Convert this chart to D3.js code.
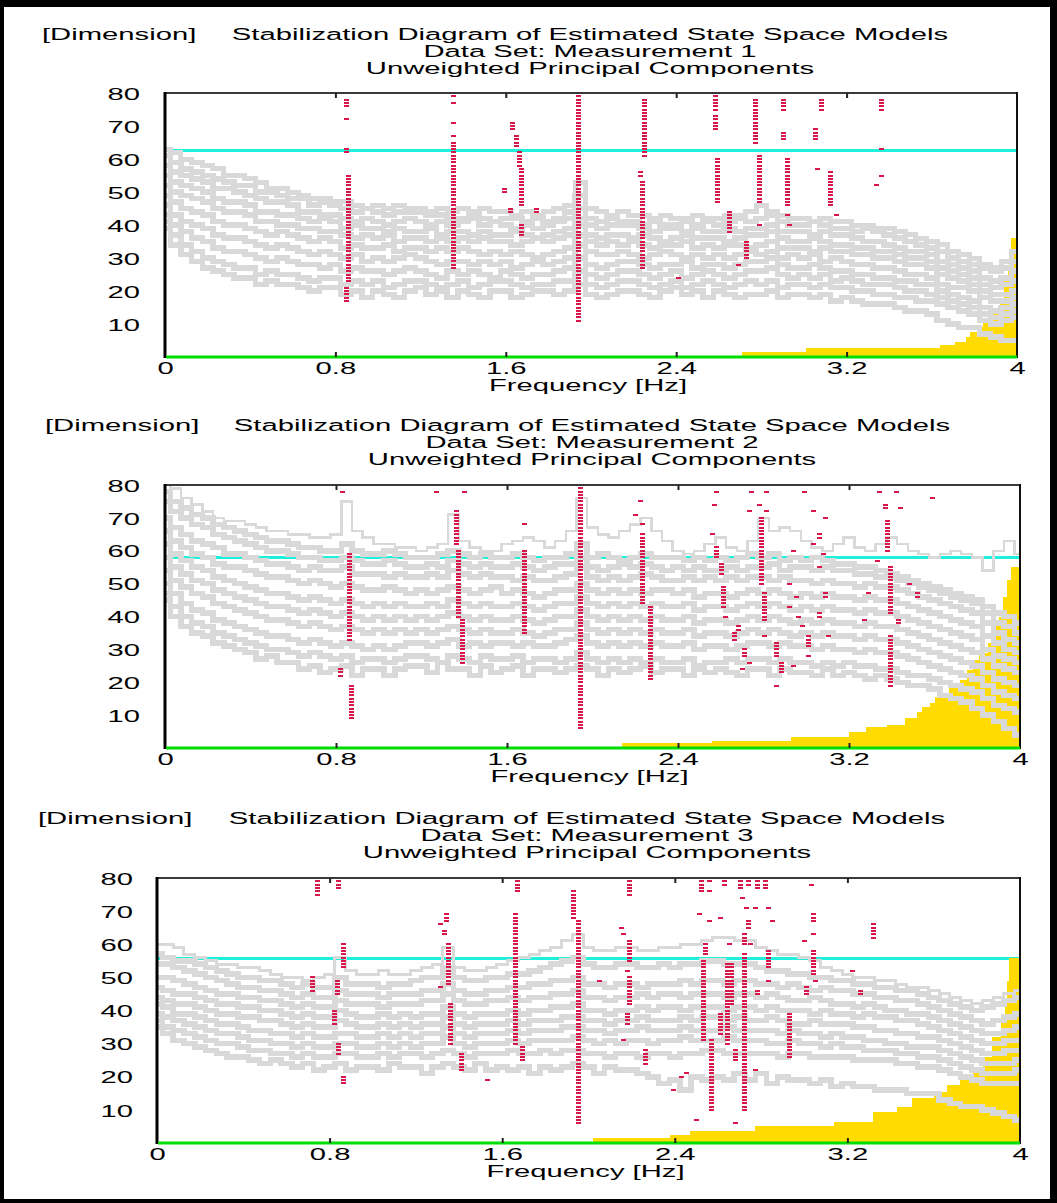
<!DOCTYPE html>
<html>
<head>
<meta charset="utf-8">
<script src="https://cdn.jsdelivr.net/npm/d3@7"></script>
<style>
  html, body { margin: 0; padding: 0; background: #fff; }
  svg text { font-family: "Liberation Sans", Arial, sans-serif; font-size: 17px; fill: #000; }
</style>
</head>
<body>
<svg id="chart" width="1057" height="1203"></svg>
<script>
// ---------- shared axis data ----------
const freqTicks = [0, 0.8, 1.6, 2.4, 3.2, 4];
const freqTickLabels = ["0", "0.8", "1.6", "2.4", "3.2", "4"];
const dimTicks = [10, 20, 30, 40, 50, 60, 70, 80];
const datasetNames = ["Measurement 1", "Measurement 2", "Measurement 3"];
const thresholds = [62.5, 57.8, 55.8];

// frequency lines of the spectra (Hz)
const spectrumFreq = [0,0.05,0.1,0.15,0.2,0.25,0.3,0.35,0.4,0.45,0.5,0.55,0.6,0.65,0.7,0.75,0.8,0.85,0.9,0.95,
  1.0,1.05,1.1,1.15,1.2,1.25,1.3,1.35,1.4,1.45,1.5,1.55,1.6,1.65,1.7,1.75,1.8,1.85,1.9,1.95,
  2.0,2.05,2.1,2.15,2.2,2.25,2.3,2.35,2.4,2.45,2.5,2.55,2.6,2.65,2.7,2.75,2.8,2.85,2.9,2.95,
  3.0,3.05,3.1,3.15,3.2,3.25,3.3,3.35,3.4,3.45,3.5,3.55,3.6,3.65,3.7,3.75,3.8,3.85,3.9,3.95,4.0];

// ---------- Measurement 1 ----------
const spectra1 = [
  [63,62,60,59,58,57,55,55,54,53,51,51,50,49,48,48,47,47,46,45,46,45,46,45,45,44,45,44,45,44,45,44,44,43,44,43,44,45,46,53,45,44,43,44,43,43,42,43,42,42,43,42,42,43,43,44,46,44,43,42,42,41,42,41,41,40,40,39,39,38,37,36,35,34,32,31,30,28,27,29,32],
  [61,59,57,56,55,54,53,52,52,50,50,49,48,48,46,47,46,45,44,45,44,43,44,44,44,43,43,42,42,43,42,41,42,42,41,42,41,42,44,49,42,41,42,41,41,40,41,40,40,41,40,41,40,41,42,41,42,43,41,40,40,41,40,39,39,38,39,38,37,36,35,34,33,32,30,29,28,27,26,27,29],
  [58,56,55,54,53,51,51,50,49,48,47,47,46,44,44,43,43,42,41,42,41,40,41,42,41,40,41,40,41,42,40,41,40,39,40,39,40,41,42,45,40,39,40,40,40,39,38,39,39,38,39,38,38,39,38,39,39,40,38,38,38,37,38,37,37,36,35,35,34,33,32,32,31,29,28,27,26,24,23,24,26],
  [55,53,52,51,50,48,47,47,46,44,44,43,43,42,41,42,41,39,40,39,39,38,39,38,38,39,37,38,38,37,38,37,37,38,37,36,37,38,39,42,37,36,37,37,36,37,36,35,36,37,36,36,36,35,36,37,37,38,36,35,35,36,35,34,34,33,33,32,32,31,30,30,29,27,26,25,24,22,21,22,23],
  [52,50,49,48,47,45,44,44,43,41,41,40,40,39,39,38,38,37,36,37,36,37,35,36,36,35,36,35,36,35,36,35,35,34,35,36,35,36,37,40,35,34,35,34,35,34,33,34,34,35,33,34,33,34,34,33,34,35,33,33,33,32,33,32,32,31,31,30,30,29,28,28,27,25,24,23,22,20,19,19,20],
  [49,47,45,44,43,41,40,40,39,38,37,38,37,36,35,36,35,33,34,33,33,34,32,33,33,32,33,32,33,32,31,32,31,32,31,30,31,32,33,37,32,31,31,32,31,30,31,32,31,30,31,30,31,30,31,32,31,32,30,31,30,31,29,30,29,28,28,27,27,26,25,25,24,22,21,21,20,18,17,17,18],
  [46,43,41,40,39,37,36,36,35,34,33,34,33,32,31,32,31,30,31,29,30,29,30,31,30,29,28,29,29,28,29,28,29,27,28,29,28,29,30,34,28,27,28,29,29,28,27,28,28,29,27,28,28,27,28,29,29,30,28,27,27,28,27,26,26,25,25,24,24,23,23,22,22,20,19,18,17,15,14,15,16],
  [43,40,38,36,35,33,32,32,31,30,29,30,29,28,28,27,28,26,27,26,26,25,26,27,26,25,24,26,25,26,25,24,26,25,24,25,25,26,27,30,25,24,25,26,26,25,24,25,26,24,25,26,25,24,25,26,26,27,25,24,25,24,25,23,24,23,22,22,22,21,20,20,19,18,17,16,15,13,12,13,14],
  [41,37,34,32,30,29,28,27,27,25,26,25,25,24,23,24,24,22,23,22,23,21,22,23,23,22,21,22,23,21,22,23,23,22,21,22,22,23,23,26,22,21,22,23,23,22,21,22,23,21,22,23,22,21,22,23,22,23,21,22,22,21,22,21,21,20,20,19,19,18,18,17,17,16,15,14,13,11,10,11,12],
  [39,34,31,29,27,26,25,24,24,22,23,22,22,21,20,21,21,19,20,18,20,19,18,20,21,19,20,18,20,19,18,20,20,18,19,20,20,19,20,22,19,18,19,20,20,19,18,20,21,19,20,18,20,19,18,19,19,20,18,19,19,18,19,17,18,17,16,16,16,15,14,14,13,11,10,9,9,7,6,5,5]
];
// stable poles: [frequency, lowest model order, highest model order]
const poles1 = [
  [0.85,76,78],[0.85,72,72],[0.85,62,63],[0.86,23,55],[0.85,17,21],
  [1.35,79,79],[1.35,77,77],[1.35,71,71],[1.35,67,67],[1.35,27,65],
  [1.63,69,71],[1.65,64,67],[1.66,58,62],[1.67,46,57],[1.67,37,40],[1.59,50,51],[1.62,44,45],[1.74,44,45],
  [1.94,11,80],
  [2.25,61,78],[2.23,55,56],[2.24,27,53],[2.41,24,24],
  [2.58,75,79],[2.58,69,73],[2.59,47,60],[2.65,38,44],[2.73,30,35],[2.69,28,28],
  [2.77,65,78],[2.79,47,61],[2.79,40,40],
  [2.90,75,78],[2.90,66,68],[2.92,46,60],[2.92,43,43],[2.93,40,40],
  [3.08,75,78],[3.05,66,69],[3.06,57,57],[3.12,46,56],[3.15,43,43],
  [3.36,75,78],[3.36,63,63],[3.36,55,55],[3.34,52,52]
];
const fill1 = [[2.71,1.5],[3.01,2.7],[3.64,3.6],[3.71,4.5],[3.76,6],[3.78,7.6],[3.81,9],[3.84,11],[3.87,13],[3.9,15],[3.92,18],[3.94,23],[3.96,28],[3.97,36],[4.0,36]];

// ---------- Measurement 2 ----------
const spectra2 = [
  [82,79,76,74,72,70,69,69,68,67,66,66,65,65,64,64,65,75,66,64,62,62,61,61,60,61,62,71,63,61,60,60,62,63,64,63,61,63,66,76,67,65,64,66,68,70,66,63,60,59,60,62,64,61,60,63,70,66,67,66,63,61,60,62,64,61,60,62,64,62,60,59,58,59,60,59,58,54,60,63,59],
  [78,75,73,71,70,68,67,66,65,64,63,63,62,61,61,60,60,62,60,59,59,60,59,58,58,58,59,60,59,58,59,58,58,59,58,57,58,58,59,62,58,59,58,57,58,59,58,58,58,57,58,57,58,57,58,59,58,59,57,58,57,58,57,56,56,55,55,54,53,52,51,50,49,48,47,46,45,43,41,40,38],
  [75,72,70,68,67,65,64,63,62,61,60,60,59,58,58,57,57,58,57,56,56,57,56,55,55,56,55,57,56,55,56,55,55,56,55,54,55,56,56,58,55,54,55,56,55,56,55,54,55,54,55,54,54,55,54,55,55,56,54,55,55,54,55,54,54,53,53,52,52,51,50,49,48,47,46,45,44,41,38,37,35],
  [70,67,65,63,62,61,59,59,58,57,56,56,55,54,55,54,54,55,53,53,53,52,53,52,52,53,52,54,53,52,53,52,52,51,52,51,51,52,53,55,52,51,52,51,52,53,52,51,51,52,51,52,51,52,51,52,52,51,52,51,51,50,51,50,50,49,50,49,49,48,47,46,45,44,43,42,41,38,35,33,32],
  [66,63,61,59,58,56,55,55,54,53,52,52,51,50,51,50,49,50,49,48,48,49,48,47,48,47,48,49,48,47,48,49,47,48,47,46,47,48,48,50,48,47,48,47,48,47,48,48,47,48,46,47,47,46,47,48,47,48,47,46,47,46,47,46,46,45,46,45,45,44,43,42,41,40,39,38,37,34,32,30,29],
  [62,59,57,55,54,52,51,50,49,48,47,47,46,45,46,45,44,45,44,43,44,43,44,43,43,44,43,45,44,43,44,43,43,44,43,42,43,44,44,46,44,43,44,43,44,43,44,43,43,44,42,43,43,42,43,44,43,44,43,42,43,42,43,42,42,41,42,41,41,40,39,38,37,36,35,34,33,30,28,27,26],
  [58,55,53,51,50,48,47,46,45,44,43,43,42,41,42,41,40,41,40,39,40,39,40,39,40,39,40,41,40,39,40,39,39,40,39,38,39,40,40,42,40,39,40,39,40,39,40,39,39,40,38,39,39,38,39,40,39,40,39,38,39,38,39,38,38,37,38,37,37,36,35,34,33,32,31,30,29,27,25,24,23],
  [54,51,49,47,46,44,43,42,41,40,39,39,38,37,38,37,36,37,36,35,36,35,36,35,36,35,36,37,36,35,36,35,35,36,35,34,35,36,36,38,36,35,36,35,36,35,36,35,35,36,34,35,35,34,35,36,35,36,35,34,35,34,35,34,34,33,34,33,33,32,31,30,29,28,27,26,25,23,21,20,19],
  [50,47,44,42,41,39,38,37,36,35,34,34,33,32,33,32,31,32,31,30,31,30,31,32,32,31,32,33,31,32,31,32,32,31,32,31,31,32,33,34,32,31,32,31,32,31,32,31,31,32,30,31,31,30,31,32,32,31,32,31,31,30,31,30,30,29,30,29,29,28,27,26,25,24,23,22,21,19,17,16,15],
  [47,43,40,38,37,35,34,33,32,31,30,30,29,28,29,28,27,28,26,27,27,26,27,28,28,27,26,28,27,26,28,27,27,28,26,27,27,26,27,29,27,26,27,26,27,26,27,26,26,27,25,26,26,27,26,27,27,26,27,26,26,25,26,25,26,25,25,24,24,23,22,22,21,20,19,18,17,15,13,12,11],
  [45,40,37,35,34,32,31,30,29,27,28,26,26,24,25,23,24,25,22,24,24,22,24,25,25,23,26,24,24,22,25,23,24,25,22,24,24,23,24,25,24,22,24,23,24,25,23,24,24,22,24,23,24,23,22,24,24,22,24,23,23,22,24,22,23,22,21,22,21,20,19,19,18,16,15,14,12,10,8,6,4]
];
const poles2 = [
  [0.62,80,80],[0.83,78,78],[0.86,33,59],[0.82,22,24],[0.87,9,19],
  [1.36,62,72],[1.37,40,60],[1.39,26,39],[1.27,78,78],[1.32,80,80],[1.40,78,78],
  [1.68,68,68],[1.68,35,60],
  [1.94,6,80],
  [2.23,80,80],[2.22,75,75],[2.20,71,71],[2.23,68,68],[2.23,44,65],[2.27,21,43],
  [2.54,80,80],[2.58,78,78],[2.57,74,74],[2.56,65,65],[2.58,58,61],[2.60,53,56],[2.61,43,49],[2.62,40,40],[2.68,36,37],[2.66,33,35],[2.71,28,30],[2.73,26,26],[2.70,24,24],
  [2.77,80,80],[2.74,78,78],[2.81,78,78],[2.78,74,74],[2.73,72,72],[2.81,72,72],[2.79,50,70],[2.80,39,47],[2.80,34,34],[2.86,28,32],[2.88,23,26],[2.86,19,19],
  [2.92,50,50],[2.94,60,60],[2.95,46,46],[2.92,43,43],[2.96,40,40],[2.98,37,37],[3.01,31,34],[3.01,28,28],[2.94,25,25],
  [3.02,80,80],[2.99,78,78],[3.03,72,72],[3.09,70,70],[3.06,64,65],[3.03,62,62],[3.08,59,59],[3.06,55,55],[3.09,46,47],[3.06,40,41],[3.10,34,34],
  [3.36,80,80],[3.39,80,80],[3.34,78,78],[3.42,78,78],[3.37,73,74],[3.44,73,73],[3.38,60,69],[3.33,57,57],[3.39,41,55],[3.29,47,47],[3.27,39,39],[3.39,19,34],[3.43,38,39],[3.48,50,50],[3.52,46,47],[3.59,76,76]
];
const fill2 = [[2.14,1.5],[2.56,2.1],[2.93,3.4],[3.2,4.9],[3.28,6.4],[3.38,7],[3.46,9],[3.52,11],[3.54,12.5],[3.58,13.7],[3.6,15.5],[3.64,16.7],[3.67,18.6],[3.72,20.7],[3.75,23.7],[3.78,26.7],[3.81,28.9],[3.85,32],[3.87,38],[3.9,40],[3.92,46],[3.94,51],[3.96,55],[4.0,55]];

// ---------- Measurement 3 ----------
const spectra3 = [
  [60,60,59,57,56,55,54,54,53,53,52,51,50,50,49,50,51,56,52,51,51,52,51,51,52,53,54,59,53,52,52,53,54,55,56,57,58,59,61,63,59,58,58,59,59,58,58,59,59,60,60,61,62,62,61,61,59,58,57,57,56,55,53,52,51,50,50,49,49,48,47,47,46,45,44,43,42,43,44,45,46],
  [57,56,55,55,54,53,52,51,50,50,49,49,48,47,48,47,47,50,48,48,48,47,48,48,49,50,50,53,50,49,49,50,50,51,51,52,53,54,55,56,54,53,53,54,54,53,53,54,53,54,54,55,55,54,54,54,53,52,52,51,51,50,50,49,49,48,48,47,47,46,46,45,44,43,42,41,40,41,42,43,44],
  [54,54,53,52,51,50,49,48,47,47,46,46,45,44,45,44,44,46,45,45,45,44,45,45,45,46,46,48,46,45,45,46,46,47,47,48,48,49,49,50,48,48,47,48,48,47,48,48,48,49,48,49,49,48,49,49,48,48,47,48,47,46,47,46,46,45,45,44,44,43,43,42,41,40,39,38,37,36,37,38,39],
  [50,50,49,48,47,46,45,45,44,44,43,43,42,41,42,41,41,43,42,42,42,41,42,42,42,43,43,45,43,42,42,43,43,44,43,44,44,45,45,46,44,44,43,44,44,45,44,45,45,44,45,45,45,44,45,45,44,45,44,43,43,44,43,42,42,41,42,41,40,40,39,39,38,37,36,35,34,33,33,34,35],
  [47,46,45,45,44,43,42,42,41,41,40,40,39,38,39,38,38,40,39,38,38,39,38,39,38,39,39,41,39,38,39,39,39,40,39,40,40,41,41,42,40,40,39,40,40,41,40,41,41,40,41,41,41,40,41,41,40,41,40,40,40,39,40,39,39,38,39,38,38,37,37,36,35,34,33,32,31,30,30,31,31],
  [44,43,42,42,41,40,39,39,38,38,37,37,36,35,36,35,35,37,36,35,35,36,35,36,35,36,36,38,36,35,36,36,36,37,36,37,37,37,38,38,37,37,36,37,37,38,37,37,37,38,37,38,38,37,38,37,37,38,37,36,36,37,36,36,36,35,35,34,34,33,33,32,32,31,30,29,28,27,27,28,28],
  [42,41,39,39,38,37,36,36,35,34,34,33,33,32,33,32,32,33,33,32,32,33,32,33,32,33,33,35,33,32,33,33,33,34,33,34,34,34,35,35,34,34,33,34,34,35,34,34,34,35,34,34,34,35,34,34,34,34,33,34,33,33,32,33,32,32,31,31,30,30,29,29,29,28,27,26,25,24,24,24,25],
  [39,38,37,36,35,34,33,33,32,31,31,30,30,29,30,29,29,30,30,29,29,30,29,30,29,30,30,32,30,29,30,30,30,31,30,31,31,31,31,32,31,30,31,30,31,31,30,31,31,32,31,31,31,32,31,31,31,30,30,31,30,30,29,30,29,29,28,28,28,27,27,26,26,25,24,23,22,21,21,21,22],
  [37,35,34,33,32,31,30,30,29,28,28,27,27,26,27,26,26,27,27,26,26,27,26,27,27,26,27,28,27,26,27,27,27,28,27,27,28,27,28,28,27,27,26,27,27,26,27,27,26,27,27,28,28,27,27,27,27,27,26,27,27,26,26,26,26,25,25,25,25,24,24,23,23,22,21,20,19,18,18,18,18],
  [35,33,31,30,29,28,27,26,26,25,24,25,24,23,24,22,23,24,22,23,23,22,24,23,23,21,23,24,23,22,24,22,23,22,23,21,23,22,23,24,23,21,23,22,22,21,20,18,19,16,20,19,20,19,21,19,21,18,20,19,19,18,19,17,18,17,17,16,16,16,15,15,15,13,12,11,11,10,9,8,7]
];
const poles3 = [
  [0.74,75,80],[0.84,77,80],[0.86,53,60],[0.835,45,49],[0.82,36,40],[0.84,27,30],[0.86,18,20],[0.72,46,50],
  [1.34,67,69],[1.31,66,66],[1.33,63,64],[1.35,48,60],[1.31,47,47],[1.36,30,42],[1.41,22,27],[1.53,19,19],
  [1.67,76,80],[1.66,30,69],[1.69,25,29],
  [1.92,80,80],[1.93,68,76],[1.95,6,67],
  [2.19,75,80],[2.15,65,65],[2.16,63,63],[2.19,55,61],[2.18,52,52],[2.19,42,50],[2.18,36,39],[2.16,31,31],[2.26,24,28],[2.05,49,49],
  [2.52,76,80],[2.56,79,79],[2.56,76,76],[2.63,78,80],[2.70,77,80],[2.74,78,79],[2.78,77,79],[2.82,77,79],[3.03,78,78],
  [2.71,74,74],[2.51,69,69],[2.61,68,68],[2.56,67,67],[2.77,71,71],[2.83,71,71],[2.73,71,71],[2.74,65,67],[2.85,67,67],
  [3.04,67,69],[3.04,63,63],[3.32,62,66],[3.00,61,61],[2.72,60,63],[2.75,60,60],[2.65,60,60],[2.54,57,60],[3.04,51,58],[3.05,49,49],
  [3.22,52,52],[3.26,45,46],[3.01,45,47],
  [2.53,31,55],[2.57,10,31],[2.64,30,54],[2.72,10,57],[2.93,26,39],[2.45,21,21],[2.43,20,20],[2.39,16,16],[2.77,22,22],
  [2.83,53,58],[2.83,49,49],[2.78,45,46],[2.66,42,54],[2.61,33,39],[2.68,25,28],[2.50,7,7],[2.68,6,6]
];
const fill3 = [[2.02,1.5],[2.38,2.4],[2.47,3.6],[2.77,5.1],[3.14,6.3],[3.32,9.3],[3.43,10.9],[3.5,13.5],[3.6,15.5],[3.66,17.5],[3.72,20],[3.78,23],[3.83,26],[3.87,32],[3.91,38],[3.93,43],[3.94,49],[3.95,56],[4.0,56]];

// ---------- layout (pixels) ----------
const SX = 1.72;  // horizontal stretch of the label font
const panels = [
  { left: 165, right: 1017, top: 93,  bottom: 357,  titleY: 40,  dimX: 42, titleX: 590, yLabelGap: 25,
    topWidth: 5, spectra: spectra1, poles: poles1, fill: fill1 },
  { left: 165, right: 1020, top: 485, bottom: 748,  titleY: 431, dimX: 45, titleX: 592, yLabelGap: 25,
    topWidth: 2.5, spectra: spectra2, poles: poles2, fill: fill2 },
  { left: 157, right: 1020, top: 878, bottom: 1143, titleY: 824, dimX: 38, titleX: 587, yLabelGap: 24,
    topWidth: 3, spectra: spectra3, poles: poles3, fill: fill3 }
];

const svg = d3.select("#chart");

function stretchedText(parent, txt, x, y, anchor) {
  return parent.append("text")
    .attr("transform", `translate(${x},${y}) scale(${SX},1)`)
    .attr("text-anchor", anchor || "start")
    .text(txt);
}

panels.forEach((p, k) => {
  const g = svg.append("g");
  const x = d3.scaleLinear().domain([0, 4]).range([p.left, p.right]);
  const y = d3.scaleLinear().domain([0, 80]).range([p.bottom, p.top]);

  // titles
  stretchedText(g, "[Dimension]", p.dimX, p.titleY, "start");
  stretchedText(g, "Stabilization Diagram of Estimated State Space Models", p.titleX, p.titleY, "middle");
  stretchedText(g, "Data Set: " + datasetNames[k], p.titleX, p.titleY + 17, "middle");
  stretchedText(g, "Unweighted Principal Components", p.titleX, p.titleY + 34, "middle");

  const clipId = "clip" + k;
  g.append("clipPath").attr("id", clipId)
    .append("rect").attr("x", p.left).attr("y", p.top)
    .attr("width", p.right - p.left).attr("height", p.bottom - p.top);
  const plot = g.append("g").attr("clip-path", `url(#${clipId})`);

  // stabilization threshold
  plot.append("line")
    .attr("x1", x(0)).attr("x2", x(4))
    .attr("y1", y(thresholds[k])).attr("y2", y(thresholds[k]))
    .attr("stroke", "#1ef0dc").attr("stroke-width", 3)
    .attr("shape-rendering", "crispEdges");

  // yellow step area
  const area = d3.area()
    .x(d => x(d[0])).y0(y(0)).y1(d => y(d[1]))
    .curve(d3.curveStepAfter);
  plot.append("path").datum(p.fill)
    .attr("d", area).attr("fill", "#ffdb00")
    .attr("shape-rendering", "crispEdges");

  // spectra (the first one of each set is the sum spectrum)
  const line = d3.line()
    .x((d, i) => x(spectrumFreq[i])).y(d => y(d))
    .curve(d3.curveStep);
  plot.selectAll("path.spec").data(p.spectra).join("path")
    .attr("class", "spec")
    .attr("d", line)
    .attr("fill", "none")
    .attr("stroke", "#d9d9d9")
    .attr("stroke-width", (d, i) => i === 0 ? p.topWidth : 5.5)
    .attr("shape-rendering", "crispEdges");

  // stable poles, one dash per model order in each run
  const marks = [];
  p.poles.forEach(([f, lo, hi]) => {
    for (let d = lo; d <= hi; d++) marks.push([f, d]);
  });
  plot.selectAll("rect.pole").data(marks).join("rect")
    .attr("class", "pole")
    .attr("x", d => Math.round(x(d[0])) - 2)
    .attr("y", d => Math.round(y(d[1])) - 1)
    .attr("width", 5).attr("height", 2)
    .attr("fill", "#d9164a")
    .attr("shape-rendering", "crispEdges");

  // frame
  g.append("line").attr("x1", p.left).attr("x2", p.right).attr("y1", p.top).attr("y2", p.top)
    .attr("stroke", "#3a3a3a").attr("stroke-width", 2);
  g.append("line").attr("x1", p.left).attr("x2", p.left).attr("y1", p.top - 1).attr("y2", p.bottom + 1)
    .attr("stroke", "#000").attr("stroke-width", 3);
  g.append("line").attr("x1", p.right).attr("x2", p.right).attr("y1", p.top - 1).attr("y2", p.bottom + 1)
    .attr("stroke", "#111").attr("stroke-width", 2);
  g.append("line").attr("x1", p.left + 1).attr("x2", p.right).attr("y1", p.bottom).attr("y2", p.bottom)
    .attr("stroke", "#00dd00").attr("stroke-width", 3);

  // top ticks
  const topAxis = g.append("g").attr("transform", `translate(0,${p.top})`)
    .call(d3.axisTop(x).tickValues(freqTicks.slice(1, -1)).tickSizeInner(-5).tickSizeOuter(0).tickFormat(""));
  topAxis.select(".domain").remove();
  topAxis.selectAll("line").attr("stroke", "#222").attr("stroke-width", 2);

  // bottom ticks and labels
  const bottomAxis = g.append("g").attr("transform", `translate(0,${p.bottom})`)
    .call(d3.axisBottom(x).tickValues(freqTicks).tickSizeInner(-5).tickSizeOuter(0).tickPadding(0)
      .tickFormat((d, i) => freqTickLabels[i]));
  bottomAxis.select(".domain").remove();
  bottomAxis.attr("font-size", null).attr("font-family", null);
  bottomAxis.selectAll("line").attr("stroke", "#222").attr("stroke-width", 2)
    .filter(d => d === 0 || d === 4).remove();
  bottomAxis.selectAll("text")
    .attr("y", 17).attr("dy", null)
    .attr("transform", `scale(${SX},1)`);

  // left labels
  const leftAxis = g.append("g").attr("transform", `translate(${p.left},0)`)
    .call(d3.axisLeft(y).tickValues(dimTicks).tickSize(0).tickFormat(d3.format("d")));
  leftAxis.select(".domain").remove();
  leftAxis.attr("font-size", null).attr("font-family", null);
  leftAxis.selectAll("text")
    .attr("x", -p.yLabelGap / SX).attr("dy", "0.36em")
    .attr("transform", `scale(${SX},1)`);

  stretchedText(g, "Frequency [Hz]", (p.left + p.right) / 2 - 3, p.bottom + 34, "middle");
});

// outer frame
svg.append("rect").attr("x", 0).attr("y", 0).attr("width", 1057).attr("height", 7).attr("fill", "#000");
svg.append("rect").attr("x", 0).attr("y", 0).attr("width", 4).attr("height", 1203).attr("fill", "#000");
svg.append("rect").attr("x", 1050).attr("y", 0).attr("width", 7).attr("height", 1203).attr("fill", "#000");
svg.append("rect").attr("x", 0).attr("y", 1199).attr("width", 1057).attr("height", 4).attr("fill", "#000");
</script>
</body>
</html>
